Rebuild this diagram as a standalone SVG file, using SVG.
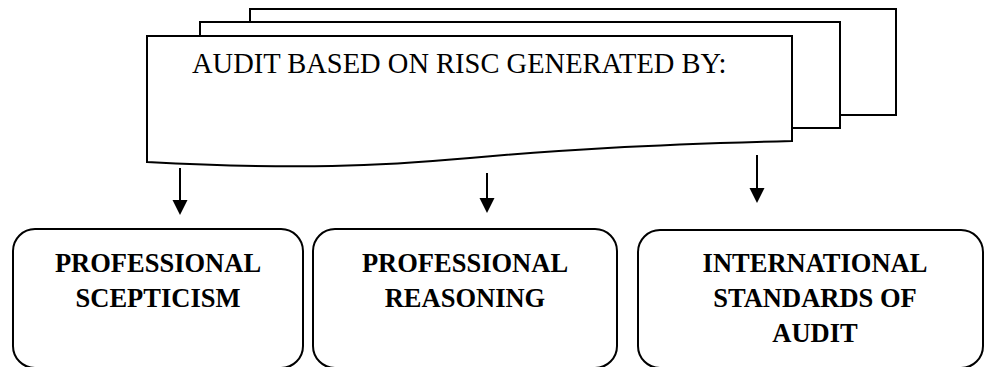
<svg xmlns="http://www.w3.org/2000/svg" width="985" height="367" viewBox="0 0 985 367">
<defs>
<style>
.pg{fill:#fff;stroke:#000;stroke-width:2}
.bx{fill:#fff;stroke:#000;stroke-width:2}
.hd{font-size:28.5px;fill:#000}
.lb{font-size:26.5px;font-weight:bold;fill:#000;text-anchor:middle}
.cn{stroke:#000;stroke-width:2;fill:none}
</style>
</defs>
<rect width="985" height="367" fill="#fff"/>
<g id="header">
<rect class="pg" x="250" y="9" width="646" height="106"/>
<rect class="pg" x="200" y="22" width="640" height="106"/>
<path class="pg" d="M147,36 H792 V141 C640,145 560,150 470,158 C380,166 300,170 147,162 Z"/>
<text class="hd" font-family="Liberation Serif, Tinos, Times New Roman, DejaVu Serif, serif" x="192" y="73">AUDIT BASED ON RISC GENERATED BY:</text>
</g>
<g id="connectors">
<line class="cn" x1="180" y1="168" x2="180" y2="201"/>
<path d="M172.5,200 L187.5,200 L180,215 Z"/>
<line class="cn" x1="487" y1="173" x2="487" y2="199"/>
<path d="M479.5,198 L494.5,198 L487,213 Z"/>
<line class="cn" x1="757" y1="155" x2="757" y2="189"/>
<path d="M749.5,188 L764.5,188 L757,203 Z"/>
</g>
<g id="box1" font-family="Liberation Serif, Tinos, Times New Roman, DejaVu Serif, serif">
<rect class="bx" x="13" y="229" width="290" height="139" rx="22" ry="22"/>
<text class="lb" x="158" y="272">PROFESSIONAL</text>
<text class="lb" x="158" y="307">SCEPTICISM</text>
</g>
<g id="box2" font-family="Liberation Serif, Tinos, Times New Roman, DejaVu Serif, serif">
<rect class="bx" x="313" y="229" width="304" height="139" rx="22" ry="22"/>
<text class="lb" x="465" y="272">PROFESSIONAL</text>
<text class="lb" x="465" y="307">REASONING</text>
</g>
<g id="box3" font-family="Liberation Serif, Tinos, Times New Roman, DejaVu Serif, serif">
<rect class="bx" x="638" y="230" width="345" height="138" rx="22" ry="22"/>
<text class="lb" x="815" y="272">INTERNATIONAL</text>
<text class="lb" x="815" y="307">STANDARDS OF</text>
<text class="lb" x="815" y="342">AUDIT</text>
</g>
</svg>
